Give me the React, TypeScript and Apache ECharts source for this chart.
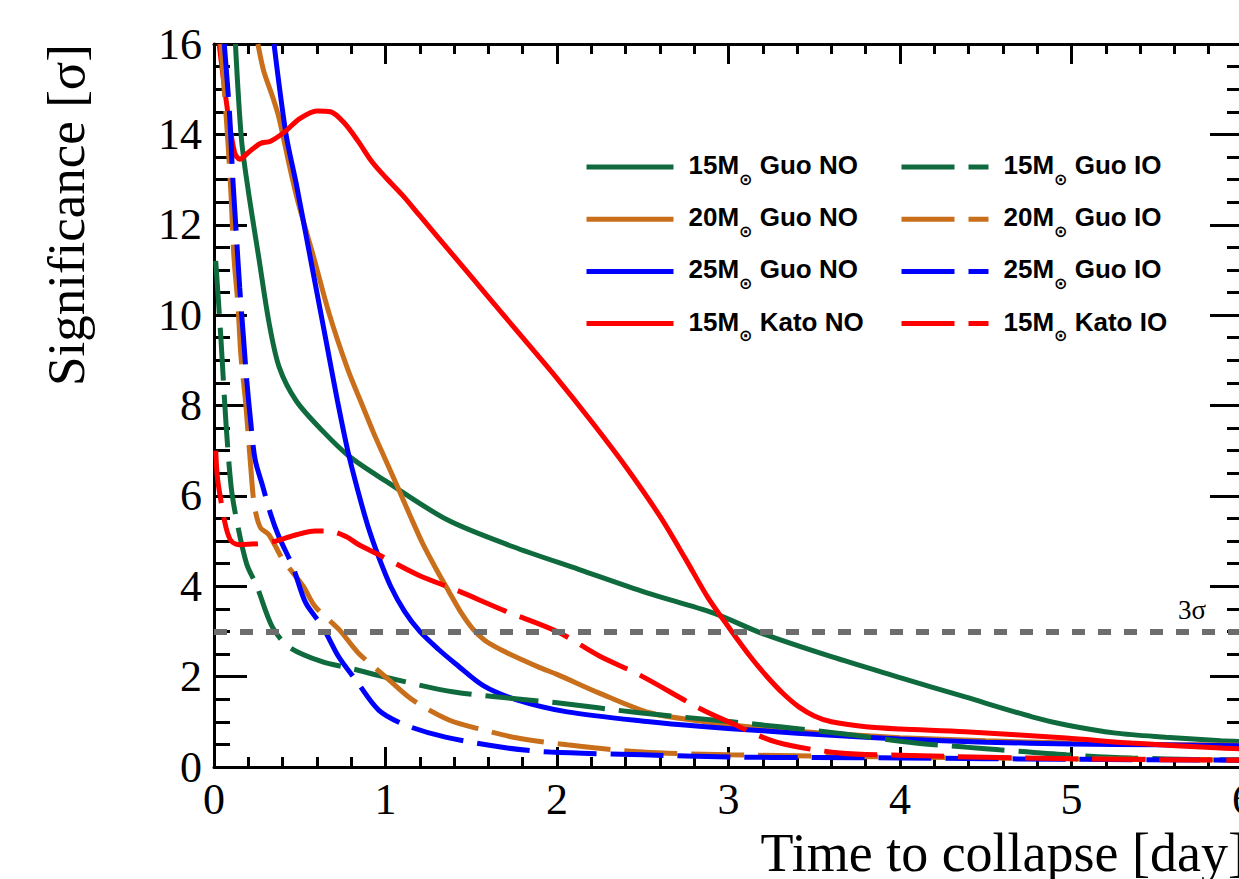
import React, { useEffect, useRef } from 'react';
import * as echarts from 'echarts';

// ---------- axes ----------
const X_MIN = 0;
const X_MAX = 6;
const X_STEP = 1;
const Y_MIN = 0;
const Y_MAX = 16;
const Y_STEP = 2;
const X_TITLE = 'Time to collapse [day]';
const Y_TITLE = 'Significance [σ]';
const THRESHOLD = 3;
const THRESHOLD_LABEL = '3σ';

type Pt = [number, number];

// ---------- series (x = day, y = sigma) ----------
const guo15NO: Pt[] = [
  [0.125, 16], [0.16, 13.9], [0.2, 12.75], [0.26, 11.3], [0.32, 9.85], [0.38, 8.85],
  [0.48, 8.1], [0.63, 7.45], [0.79, 6.87], [1.0, 6.33], [1.36, 5.47], [1.74, 4.88],
  [2.13, 4.37], [2.52, 3.86], [2.91, 3.41], [3.2, 2.95], [3.6, 2.44], [3.99, 1.99],
  [4.38, 1.55], [4.77, 1.11], [4.97, 0.93], [5.26, 0.75], [5.55, 0.66], [5.87, 0.58], [6.0, 0.56],
];
const guo20NO: Pt[] = [
  [0.256, 16], [0.29, 15.4], [0.34, 14.85], [0.38, 14.35], [0.44, 13.3], [0.49, 12.5],
  [0.58, 11.3], [0.67, 10.05], [0.78, 8.8], [0.86, 8.05], [0.93, 7.4], [1.0, 6.8],
  [1.07, 6.2], [1.145, 5.55], [1.22, 4.92], [1.3, 4.35], [1.37, 3.88], [1.44, 3.42],
  [1.51, 3.05], [1.58, 2.8], [1.67, 2.6], [1.78, 2.4], [1.9, 2.2], [2.0, 2.05],
  [2.25, 1.63], [2.54, 1.2], [2.83, 1.02], [3.2, 0.86], [3.6, 0.74], [4.0, 0.65],
  [4.5, 0.58], [5.0, 0.53], [5.5, 0.5], [6.0, 0.48],
];
const guo25NO: Pt[] = [
  [0.35, 16], [0.42, 14.0], [0.48, 12.9], [0.54, 11.7], [0.6, 10.5], [0.66, 9.3],
  [0.72, 8.1], [0.78, 7.0], [0.84, 6.1], [0.9, 5.3], [0.96, 4.65], [1.03, 4.0],
  [1.11, 3.45], [1.2, 3.0], [1.31, 2.6], [1.41, 2.28], [1.57, 1.8], [1.77, 1.48],
  [2.06, 1.22], [2.54, 1.0], [2.83, 0.9], [3.2, 0.8], [3.6, 0.7], [4.0, 0.62],
  [4.5, 0.55], [5.0, 0.51], [5.5, 0.49], [6.0, 0.47],
];
const kato15NO: Pt[] = [
  [0.03, 16], [0.08, 14.5], [0.12, 13.6], [0.15, 13.45], [0.2, 13.6], [0.27, 13.8],
  [0.33, 13.85], [0.41, 14.05], [0.5, 14.35], [0.6, 14.52], [0.68, 14.5], [0.76, 14.25],
  [0.84, 13.85], [0.92, 13.4], [1.0, 13.05], [1.1, 12.65], [1.2, 12.2], [1.4, 11.3],
  [1.6, 10.4], [1.8, 9.5], [2.0, 8.6], [2.2, 7.65], [2.4, 6.65], [2.6, 5.55], [2.75, 4.6],
  [2.88, 3.75], [3.0, 3.1], [3.12, 2.48], [3.22, 2.02], [3.32, 1.62], [3.41, 1.33], [3.5, 1.13],
  [3.6, 1.0], [3.8, 0.89], [4.0, 0.84], [4.38, 0.78], [4.97, 0.64], [5.35, 0.53],
  [5.87, 0.42], [6.0, 0.4],
];
const guo15IO: Pt[] = [
  [0.01, 11.2], [0.04, 9.5], [0.07, 7.6], [0.1, 6.2], [0.13, 5.5], [0.19, 4.5],
  [0.25, 4.0], [0.34, 3.1], [0.44, 2.65], [0.63, 2.33], [0.79, 2.19], [1.02, 1.97],
  [1.4, 1.66], [2.0, 1.42], [2.48, 1.2], [3.02, 1.0], [3.3, 0.89], [3.7, 0.72],
  [4.09, 0.53], [4.38, 0.44], [4.58, 0.38], [4.97, 0.27], [5.35, 0.2], [5.87, 0.16], [6.0, 0.16],
];
const guo20IO: Pt[] = [
  [0.04, 16], [0.08, 13.9], [0.1, 12.6], [0.116, 11.3], [0.14, 10.2], [0.157, 9.1],
  [0.186, 8.0], [0.215, 6.6], [0.235, 5.8], [0.27, 5.3], [0.32, 5.14], [0.4, 4.6],
  [0.52, 4.0], [0.59, 3.55], [0.73, 3.04], [0.84, 2.53], [1.02, 1.93], [1.16, 1.48],
  [1.37, 1.04], [1.57, 0.82], [1.77, 0.64], [2.06, 0.49], [2.5, 0.33], [3.0, 0.27],
  [4.0, 0.22], [5.0, 0.18], [6.0, 0.16],
];
const guo25IO: Pt[] = [
  [0.06, 16], [0.09, 14.5], [0.11, 13.0], [0.13, 11.8], [0.15, 10.6], [0.17, 9.6],
  [0.19, 8.6], [0.215, 7.6], [0.24, 6.8], [0.285, 6.2], [0.33, 5.6], [0.378, 5.1],
  [0.46, 4.43], [0.535, 3.63], [0.634, 3.1], [0.727, 2.44], [0.826, 1.93], [0.96, 1.26],
  [1.116, 0.93], [1.35, 0.66], [1.71, 0.42], [1.96, 0.33], [2.5, 0.27], [3.0, 0.22],
  [3.5, 0.21], [4.0, 0.2], [5.0, 0.17], [6.0, 0.15],
];
const kato15IO: Pt[] = [
  [0.01, 7.0], [0.02, 6.4], [0.04, 5.9], [0.07, 5.3], [0.1, 5.0], [0.15, 4.92],
  [0.25, 4.94], [0.36, 5.0], [0.48, 5.14], [0.59, 5.22], [0.67, 5.22], [0.77, 5.1],
  [0.84, 4.93], [0.96, 4.7], [1.19, 4.25], [1.41, 3.92], [1.7, 3.45], [2.0, 3.0],
  [2.25, 2.45], [2.48, 2.04], [2.83, 1.3], [3.0, 1.0], [3.28, 0.55], [3.65, 0.31],
  [4.0, 0.26], [5.0, 0.18], [6.0, 0.15],
];

const GREEN = '#0f6b3e';
const ORANGE = '#c96f1b';
const BLUE = '#0000ff';
const RED = '#ff0000';
const GRAY = '#6d6d6d';

const solidNames = ['15M⊙ Guo NO', '20M⊙ Guo NO', '25M⊙ Guo NO', '15M⊙ Kato NO'];
const dashedNames = ['15M⊙ Guo IO', '20M⊙ Guo IO', '25M⊙ Guo IO', '15M⊙ Kato IO'];
const solidData = [guo15NO, guo20NO, guo25NO, kato15NO];
const dashedData = [guo15IO, guo20IO, guo25IO, kato15IO];
const colors = [GREEN, ORANGE, BLUE, RED];

const DASH = [53, 14];
const LINE_W = 5;

function App() {
  const ref = useRef<HTMLDivElement>(null);

  useEffect(() => {
    if (!ref.current) return;
    const chart = echarts.init(ref.current, undefined, { renderer: 'svg' });

    const tickStyle = { color: '#000', width: 3 };
    const xAxisBase = {
      type: 'value' as const,
      min: X_MIN,
      max: X_MAX,
      interval: X_STEP,
      axisLine: { show: true, onZero: false, lineStyle: tickStyle },
      axisTick: { show: true, inside: true, length: 20, lineStyle: tickStyle },
      minorTick: { show: true, splitNumber: 5, length: 10, lineStyle: tickStyle },
      splitLine: { show: false },
    };
    const yAxisBase = {
      type: 'value' as const,
      min: Y_MIN,
      max: Y_MAX,
      interval: Y_STEP,
      axisLine: { show: true, onZero: false, lineStyle: tickStyle },
      axisTick: { show: true, inside: true, length: 33, lineStyle: tickStyle },
      minorTick: { show: true, splitNumber: 4, length: 16, lineStyle: tickStyle },
      splitLine: { show: false },
    };

    const labelFont = { fontFamily: '"Liberation Serif", "Times New Roman", serif', color: '#000' };

    const mkSeries = (name: string, data: Pt[], color: string, dashed: boolean) => ({
      name,
      type: 'line' as const,
      data,
      xAxisIndex: 0,
      yAxisIndex: 0,
      symbol: 'none',
      showSymbol: false,
      smooth: 0.3,
      clip: true,
      lineStyle: { color, width: LINE_W, type: dashed ? DASH : 'solid', cap: 'butt' },
      itemStyle: { color },
      emphasis: { disabled: true },
    });

    const series: any[] = [];
    solidNames.forEach((n, i) => series.push(mkSeries(n, solidData[i], colors[i], false)));
    dashedNames.forEach((n, i) => series.push(mkSeries(n, dashedData[i], colors[i], true)));
    series[series.length - 1].markLine = {
      silent: true,
      symbol: 'none',
      animation: false,
      lineStyle: { color: GRAY, width: 6, type: [13, 13] },
      label: {
        show: true,
        formatter: THRESHOLD_LABEL,
        position: 'insideEndTop',
        distance: [37, 8],
        fontSize: 27,
        fontFamily: '"Liberation Serif", "Times New Roman", serif',
        color: '#000',
      },
      data: [{ yAxis: THRESHOLD }],
    };

    const sans = '"Liberation Sans", Arial, sans-serif';
    const legendText = {
      fontFamily: sans,
      fontWeight: 'bold' as const,
      fontSize: 26,
      color: '#000',
      rich: {
        b: { fontFamily: sans, fontWeight: 'bold', fontSize: 26, color: '#000', padding: [0, 0, 0, 10], verticalAlign: 'top', lineHeight: 30 },
        s: { fontFamily: '"DejaVu Sans", sans-serif', fontSize: 16, color: '#000', verticalAlign: 'top', padding: [19, 0, 0, 0], lineHeight: 16 },
        a: { fontFamily: sans, fontWeight: 'bold', fontSize: 26, color: '#000', verticalAlign: 'top', lineHeight: 30 },
      },
    };
    const legendFormatter = (name: string) => {
      const p = name.split('⊙');
      return `{b|${p[0]}}{s|⊙}{a|${p[1]}}`;
    };
    const legendBase = {
      orient: 'vertical' as const,
      top: 152,
      padding: 0,
      itemWidth: 87,
      itemHeight: 32,
      itemGap: 17.2,
      selectedMode: false,
      formatter: legendFormatter,
      textStyle: legendText,
      itemStyle: { opacity: 0, borderWidth: 0 },
      lineStyle: { width: LINE_W },
    };

    chart.setOption({
      animation: false,
      backgroundColor: '#fff',
      grid: { left: 214, top: 44, width: 1029, height: 723, containLabel: false },
      xAxis: [
        { ...xAxisBase, position: 'bottom', axisLabel: { show: true, fontSize: 44, margin: 10, ...labelFont } },
        { ...xAxisBase, position: 'top', axisLabel: { show: false } },
      ],
      yAxis: [
        { ...yAxisBase, position: 'left', axisLabel: { show: true, fontSize: 44, margin: 12, ...labelFont } },
        { ...yAxisBase, position: 'right', axisLabel: { show: false } },
      ],
      legend: [
        { ...legendBase, left: 584, data: solidNames },
        { ...legendBase, left: 899, data: dashedNames },
      ],
      graphic: [
        {
          type: 'text',
          x: 66,
          y: 215,
          rotation: Math.PI / 2,
          style: {
            text: Y_TITLE,
            fontSize: 53,
            fontFamily: '"Liberation Serif", "Times New Roman", serif',
            fill: '#000',
            textAlign: 'center',
            textVerticalAlign: 'middle',
          },
        },
        {
          type: 'text',
          x: 1246,
          y: 853,
          style: {
            text: X_TITLE,
            fontSize: 54,
            fontFamily: '"Liberation Serif", "Times New Roman", serif',
            fill: '#000',
            textAlign: 'right',
            textVerticalAlign: 'middle',
          },
        },
      ],
      series,
    });

    return () => chart.dispose();
  }, []);

  return (
    <div style={{ position: 'fixed', left: 0, top: 0, width: 1239, height: 879, overflow: 'hidden', background: '#fff' }}>
      <div ref={ref} style={{ width: 1262, height: 879 }} />
    </div>
  );
}

export default App;
